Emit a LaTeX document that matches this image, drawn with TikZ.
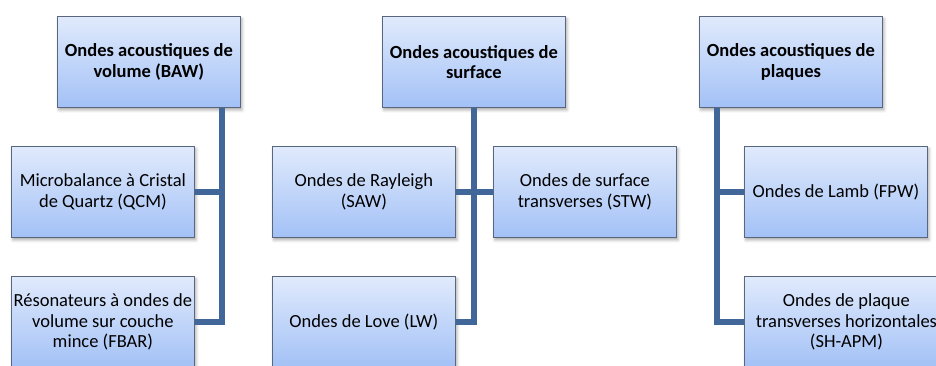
\documentclass[tikz,border=0pt]{standalone}
\usepackage{fontspec}
\setmainfont{Carlito}
\usetikzlibrary{shadows.blur}
\definecolor{boxtop}{RGB}{224,234,252}
\definecolor{boxbot}{RGB}{163,193,246}
\definecolor{boxline}{RGB}{88,102,126}
\definecolor{linkcol}{RGB}{65,103,154}
\begin{document}
\begin{tikzpicture}[x=1pt,y=-1pt]

		\tikzset{
		  wavebox/.style={
			draw=boxline,
			line width=0.8pt,
			top color=boxtop,
			bottom color=boxbot,
			anchor=north west,
			inner sep=0pt,
			minimum width=183pt,
			minimum height=91pt,
			align=center,
			font=\fontsize{18.5}{20.5}\selectfont,
			blur shadow={shadow xshift=1.5pt,shadow yshift=-2.5pt,shadow blur radius=3pt,shadow opacity=35},
		  },
		  headbox/.style={
			wavebox,
			font=\fontsize{18.5}{20.5}\selectfont\bfseries,
		  },
		  link/.style={
			draw=linkcol,
			line width=5.5pt,
		  },
		}
		\useasboundingbox (0,0) rectangle (936,365);
		\begin{scope}
		\clip (0,0) rectangle (936,365);
		% ondes de volume
		\node[headbox] (baw) at (57,16) {Ondes acoustiques de\\volume (BAW)};
		\node[wavebox] (qcm) at (11,146) {Microbalance à Cristal\\de Quartz (QCM)};
		\node[wavebox] (fbar) at (11,276) {Résonateurs à ondes de\\volume sur couche\\mince (FBAR)};
		% ondes de surface
		\node[headbox] (surf) at (382,16) {Ondes acoustiques de\\surface};
		\node[wavebox] (saw) at (272,146) {Ondes de Rayleigh\\(SAW)};
		\node[wavebox] (stw) at (493,146) {Ondes de surface\\transverses (STW)};
		\node[wavebox] (lw) at (272,276) {Ondes de Love (LW)};
		% ondes de plaques
		\node[headbox] (plq) at (699,16) {Ondes acoustiques de\\plaques};
		\node[wavebox] (fpw) at (744,146) {Ondes de Lamb (FPW)};
		\node[wavebox,minimum width=204pt] (shapm) at (744,276) {Ondes de plaque\\transverses horizontales\\(SH-APM)};

		\coordinate (bawfoot) at ([xshift=-19pt]baw.south east);
		\coordinate (plqfoot) at ([xshift=18pt]plq.south west);

		\draw[link] (bawfoot) |- (qcm.east);
		\draw[link] (bawfoot) |- (fbar.east);
		\draw[link] (surf.south) |- (saw.east);
		\draw[link] (surf.south) |- (stw.west);
		\draw[link] (surf.south) |- (lw.east);
		\draw[link] (plqfoot) |- (fpw.west);
		\draw[link] (plqfoot) |- (shapm.west);
		\end{scope}

	\end{tikzpicture}
\end{document}
